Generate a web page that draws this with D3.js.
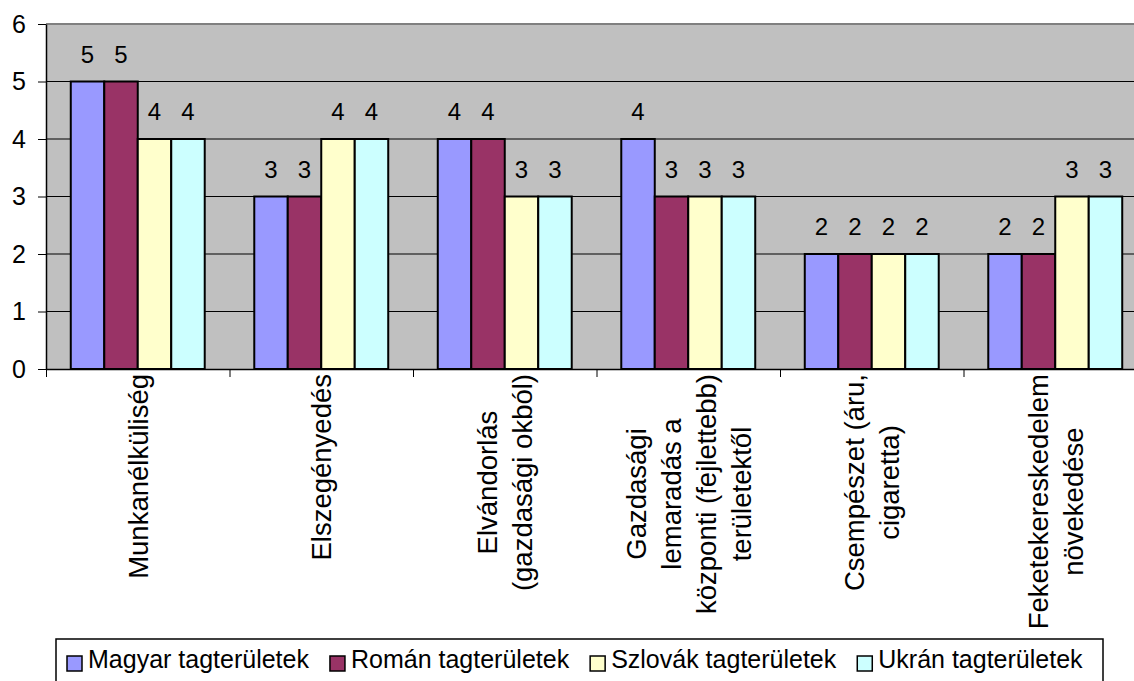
<!DOCTYPE html>
<html>
    <head>
        <meta charset="utf-8">
        <title>Tagterületek problémái</title>
        <script src="https://d3js.org/d3.v7.min.js" charset="utf-8"></script>
        <style>
            body { margin: 0; background: #fff; }
            svg { display: block; font-family: "Liberation Sans", Arial, sans-serif; }
        </style>
    </head>
    <body>
        <script>

            // category labels, lines separated by "\n"
            var categories = [
                "Munkanélküliség",
                "Elszegényedés",
                "Elvándorlás\n(gazdasági okból)",
                "Gazdasági\nlemaradás a\nközponti (fejlettebb)\nterületektől",
                "Csempészet (áru,\ncigaretta)",
                "Feketekereskedelem\nnövekedése"
            ];

            var seriesNames = ["Magyar tagterületek", "Román tagterületek", "Szlovák tagterületek", "Ukrán tagterületek"];
            var seriesColors = ["#9999FF", "#993366", "#FFFFCC", "#CCFFFF"];

            var magyar  = [5, 3, 4, 4, 2, 2];
            var roman   = [5, 3, 4, 3, 2, 2];
            var szlovak = [4, 4, 3, 3, 2, 3];
            var ukran   = [4, 4, 3, 3, 2, 3];

            var yTicks = [0, 1, 2, 3, 4, 5, 6];

            var seriesValues = [magyar, roman, szlovak, ukran];

            var margin = {top: 24, left: 46};
            var width = 1101;
            var height = 345;

            var svg = d3.select("body")
                        .append("svg")
                         .attr("width", 1134)
                         .attr("height", 681);

            var g = svg.append("g")
                        .attr("transform", "translate(" + margin.left + "," + margin.top + ")");

            var x0 = d3.scaleBand()
                        .domain(d3.range(categories.length))
                        .range([0, width])
                        .paddingInner(0.27)
                        .paddingOuter(0.135);

            var x1 = d3.scaleBand()
                        .domain(d3.range(seriesNames.length))
                        .range([0, x0.bandwidth()]);

            var yScale = d3.scaleLinear()
                            .domain([0, 6])
                            .range([height, 0]);

            // plot background
            g.append("rect")
                .attr("width", width)
                .attr("height", height)
                .style("fill", "#C0C0C0");

            g.append("line")
                .attr("x1", 0).attr("x2", width)
                .attr("y1", 0).attr("y2", 0)
                .style("stroke", "#808080")
                .style("stroke-width", 2);

            // gridlines
            g.selectAll(".grid")
                .data(yTicks.filter(function(d) { return d > 0 && d < 6; }))
                .enter().append("line")
                .attr("class", "grid")
                .attr("x1", 0).attr("x2", width)
                .attr("y1", function(d) { return yScale(d); })
                .attr("y2", function(d) { return yScale(d); })
                .style("stroke", "#000")
                .style("stroke-width", 1);

            // bars
            var groups = g.selectAll(".cat")
                .data(categories)
                .enter().append("g")
                .attr("class", "cat")
                .attr("transform", function(d, i) { return "translate(" + x0(i) + ",0)"; });

            groups.selectAll("rect")
                .data(function(d, i) { return seriesValues.map(function(s, j) { return {s: j, v: s[i]}; }); })
                .enter().append("rect")
                .attr("x", function(d) { return x1(d.s); })
                .attr("y", function(d) { return yScale(d.v); })
                .attr("width", x1.bandwidth())
                .attr("height", function(d) { return height - yScale(d.v); })
                .style("fill", function(d) { return seriesColors[d.s]; })
                .style("stroke", "#000")
                .style("stroke-width", 2);

            groups.selectAll(".val")
                .data(function(d, i) { return seriesValues.map(function(s, j) { return {s: j, v: s[i]}; }); })
                .enter().append("text")
                .attr("class", "val")
                .attr("x", function(d) { return x1(d.s) + x1.bandwidth() / 2; })
                .attr("y", function(d) { return yScale(d.v) - 19; })
                .style("text-anchor", "middle")
                .style("font-size", "24px")
                .text(function(d) { return d.v; });

            // y axis
            var yAxis = g.append("g")
                .call(d3.axisLeft(yScale).tickValues(yTicks).tickFormat(d3.format("d"))
                        .tickSize(8).tickPadding(12).tickSizeOuter(0));
            yAxis.select(".domain").style("stroke", "#000").style("stroke-width", 1.5);
            yAxis.selectAll("text").style("font-size", "25px").style("fill", "#000").style("font-family", "Liberation Sans, Arial, sans-serif");

            // x axis with ticks on category boundaries
            var xb = d3.scaleLinear().domain([0, categories.length]).range([0, width]);
            var xAxis = g.append("g")
                .attr("transform", "translate(0," + height + ")")
                .call(d3.axisBottom(xb).ticks(categories.length).tickFormat("").tickSize(8).tickSizeOuter(0));
            xAxis.select(".domain").style("stroke", "#000").style("stroke-width", 1.5);

            // category labels, rotated, lines centered
            var lineGap = 35;
            var labelTop = height + 5;
            categories.forEach(function(c, i) {
                var lines = c.split("\n");
                var cx = x0(i) + x0.bandwidth() / 2;
                var t = g.append("text")
                    .style("font-size", "27.5px")
                    .style("text-anchor", "middle");
                var spans = lines.map(function(l) {
                    return t.append("tspan").text(l);
                });
                var maxLen = d3.max(spans, function(s) { return s.node().getComputedTextLength(); });
                var yc = labelTop + maxLen / 2;
                spans.forEach(function(s, k) {
                    s.attr("x", -yc)
                     .attr("y", cx + (k - (lines.length - 1) / 2) * lineGap)
                     .attr("dy", "0.36em");
                });
                t.attr("transform", "rotate(-90)");
            });

            // legend
            var legend = svg.append("g");
            legend.append("rect")
                .attr("x", 56).attr("y", 639)
                .attr("width", 1047).attr("height", 60)
                .style("fill", "#fff")
                .style("stroke", "#000")
                .style("stroke-width", 1.5);

            var lx = 67;
            seriesNames.forEach(function(name, j) {
                legend.append("rect")
                    .attr("x", lx).attr("y", 656)
                    .attr("width", 15).attr("height", 15)
                    .style("fill", seriesColors[j])
                    .style("stroke", "#000")
                    .style("stroke-width", 1.5);
                var txt = legend.append("text")
                    .attr("x", lx + 21).attr("y", 668)
                    .style("font-size", "25px")
                    .text(name);
                lx = lx + 21 + txt.node().getComputedTextLength() + 21;
            });
        </script>
    </body>
</html>
